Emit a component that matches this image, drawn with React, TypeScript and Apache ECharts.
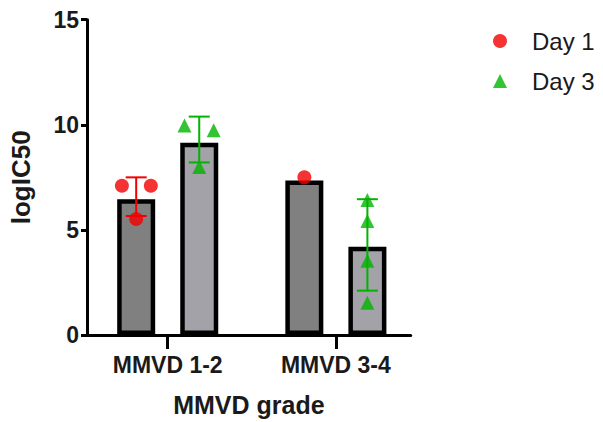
import React, { useEffect, useRef } from "react";
import * as echarts from "echarts";

// ---- Data ----
const categories = ["MMVD 1-2", "MMVD 3-4"];
const groupCenters = [1, 3]; // x-axis value of each category centre
const seriesNames = ["Day 1", "Day 3"];

const day1Bars = [6.46, 7.35];
const day3Bars = [9.15, 4.2];

const day1ErrLow: (number | null)[] = [5.66, null];
const day1ErrHigh: (number | null)[] = [7.5, null];
const day3ErrLow: (number | null)[] = [8.21, 2.11];
const day3ErrHigh: (number | null)[] = [10.39, 6.46];

const day1Points = [[7.1, 7.1, 5.52], [7.5]];
const day3Points = [[9.97, 9.74, 7.99], [6.42, 5.42, 3.53, 1.54]];
// horizontal jitter of each point, in category-axis units
const day1Jitter = [[-0.17, 0.174, 0], [0]];
const day3Jitter = [[-0.175, 0.172, 0], [0, 0, 0, 0]];

const yTicks = [0, 5, 10, 15];

// ---- Styles ----
const RED = "#f20000";
const GREEN = "#00b400";
const DARK_BAR = "#808080";
const LIGHT_BAR = "#a2a2a8";
const BAR_OFFSET = 0.375;
const FONT = "'Liberation Sans', Arial, Helvetica, sans-serif";

export default function App() {
  const ref = useRef<HTMLDivElement>(null);

  useEffect(() => {
    document.body.style.margin = "0";
    if (!ref.current) return;
    const chart = echarts.init(ref.current, null, { renderer: "svg" });

    const barData: any[] = [];
    categories.forEach((_, i) => {
      barData.push({
        value: [groupCenters[i] - BAR_OFFSET, day1Bars[i]],
        itemStyle: { color: DARK_BAR },
      });
      barData.push({
        value: [groupCenters[i] + BAR_OFFSET, day3Bars[i]],
        itemStyle: { color: LIGHT_BAR },
      });
    });

    const errData: any[] = [];
    categories.forEach((_, i) => {
      if (day1ErrLow[i] != null && day1ErrHigh[i] != null) {
        errData.push([groupCenters[i] - BAR_OFFSET, day1ErrLow[i], day1ErrHigh[i], 0]);
      }
      if (day3ErrLow[i] != null && day3ErrHigh[i] != null) {
        errData.push([groupCenters[i] + BAR_OFFSET, day3ErrLow[i], day3ErrHigh[i], 1]);
      }
    });

    const pts = (points: number[][], jitter: number[][], sign: number) => {
      const out: number[][] = [];
      points.forEach((arr, i) => {
        arr.forEach((v, j) => {
          out.push([groupCenters[i] + sign * BAR_OFFSET + jitter[i][j], v]);
        });
      });
      return out;
    };

    const option: any = {
      animation: false,
      grid: { left: 85.7, top: 19.7, right: 192.3, bottom: 85.5, containLabel: false },
      legend: {
        data: seriesNames,
        orient: "vertical",
        left: 488,
        top: 24,
        itemWidth: 14,
        itemHeight: 14,
        itemGap: 16,
        selectedMode: false,
        textStyle: {
          fontFamily: FONT,
          fontSize: 24,
          color: "#1a1a1a",
          padding: [0, 0, 0, 20],
        },
      },
      xAxis: {
        type: "value",
        min: 0.04,
        max: 3.89,
        splitLine: { show: false },
        axisLine: { show: true, lineStyle: { color: "#000", width: 3 } },
        axisTick: {
          show: true,
          customValues: groupCenters,
          length: 14,
          lineStyle: { color: "#000", width: 3 },
        },
        axisLabel: {
          customValues: groupCenters,
          formatter: (v: number) => {
            const idx = groupCenters.indexOf(Math.round(v));
            return idx >= 0 ? categories[idx] : "";
          },
          margin: 18,
          fontFamily: FONT,
          fontWeight: "bold",
          fontSize: 23,
          color: "#1a1a1a",
        },
        name: "MMVD grade",
        nameLocation: "middle",
        nameGap: 57,
        nameTextStyle: {
          fontFamily: FONT,
          fontWeight: "bold",
          fontSize: 25,
          color: "#1a1a1a",
        },
      },
      yAxis: {
        type: "value",
        min: yTicks[0],
        max: yTicks[yTicks.length - 1],
        interval: yTicks[1] - yTicks[0],
        splitLine: { show: false },
        axisLine: { show: true, lineStyle: { color: "#000", width: 3 } },
        axisTick: { show: true, length: 6, lineStyle: { color: "#000", width: 3 } },
        axisLabel: {
          margin: 8,
          fontFamily: FONT,
          fontWeight: "bold",
          fontSize: 23,
          color: "#1a1a1a",
        },
        name: "logIC50",
        nameLocation: "middle",
        nameGap: 53,
        nameTextStyle: {
          fontFamily: FONT,
          fontWeight: "bold",
          fontSize: 26,
          color: "#1a1a1a",
        },
      },
      series: [
        {
          name: "bars",
          type: "bar",
          data: barData,
          barWidth: 38,
          itemStyle: { borderColor: "#000", borderWidth: 4.5 },
          z: 2,
        },
        {
          name: "errors",
          type: "custom",
          data: errData,
          z: 3,
          renderItem: (params: any, api: any) => {
            const x = api.value(0);
            const lo = api.coord([x, api.value(1)]);
            const hi = api.coord([x, api.value(2)]);
            const color = api.value(3) === 0 ? RED : GREEN;
            const half = 10.5;
            const style = { stroke: color, lineWidth: 2 };
            return {
              type: "group",
              children: [
                { type: "line", shape: { x1: lo[0], y1: lo[1], x2: hi[0], y2: hi[1] }, style },
                { type: "line", shape: { x1: hi[0] - half, y1: hi[1], x2: hi[0] + half, y2: hi[1] }, style },
                { type: "line", shape: { x1: lo[0] - half, y1: lo[1], x2: lo[0] + half, y2: lo[1] }, style },
              ],
            };
          },
        },
        {
          name: seriesNames[0],
          type: "scatter",
          symbol: "circle",
          symbolSize: 14,
          itemStyle: { color: RED },
          data: pts(day1Points, day1Jitter, -1),
          z: 4,
        },
        {
          name: seriesNames[1],
          type: "scatter",
          symbol: "triangle",
          symbolSize: 14,
          itemStyle: { color: GREEN },
          data: pts(day3Points, day3Jitter, 1),
          z: 4,
        },
      ],
    };

    chart.setOption(option);
    return () => chart.dispose();
  }, []);

  return <div ref={ref} style={{ width: 603, height: 422 }} />;
}
